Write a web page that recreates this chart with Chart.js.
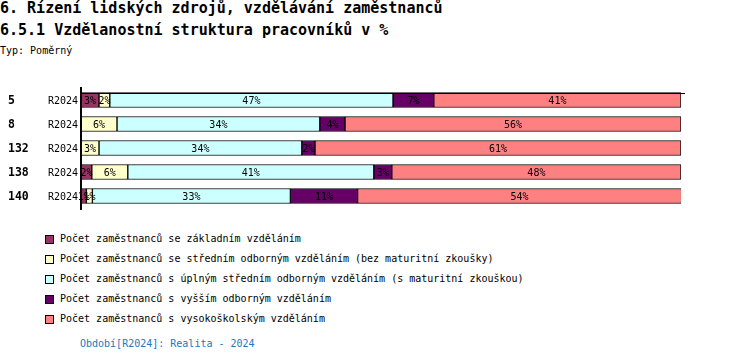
<!DOCTYPE html>
<html><head><meta charset="utf-8">
<script src="https://cdn.jsdelivr.net/npm/chart.js@4/dist/chart.umd.min.js"></script>
<style>
body{margin:0;width:750px;height:362px;background:#fff;position:relative;overflow:hidden;font-family:"DejaVu Sans Mono",monospace;color:#000}
.t{position:absolute;white-space:pre;left:0}
#chartWrap{position:absolute;left:0;top:85px;width:750px;height:130px}
.lg{position:absolute;left:45px;font-size:10px;line-height:12px;white-space:pre}
.lg span.sw{position:absolute;left:0;top:2px;width:7px;height:7px;border:1px solid #000}
.lg span.tx{position:absolute;left:15px;top:0}
</style></head><body>
<div class="t" style="top:0px;font-size:15px;font-weight:bold;line-height:17px">6. Řízení lidských zdrojů, vzdělávání zaměstnanců</div>
<div class="t" style="top:22px;font-size:15px;font-weight:bold;line-height:17px">6.5.1 Vzdělanostní struktura pracovníků v %</div>
<div class="t" style="top:45px;font-size:10px;line-height:12px">Typ: Poměrný</div>
<div id="chartWrap"><canvas id="c" width="750" height="130"></canvas></div>
<div id="legend"></div>
<div class="t" style="left:80px;top:338px;font-size:10px;line-height:12px;color:#2277bb">Období[R2024]: Realita - 2024</div>
<script>
const units = ['5', '8', '132', '138', '140'];
const period = 'R2024';
const seriesNames = [
  'Počet zaměstnanců se základním vzděláním',
  'Počet zaměstnanců se středním odborným vzděláním (bez maturitní zkoušky)',
  'Počet zaměstnanců s úplným středním odborným vzděláním (s maturitní zkouškou)',
  'Počet zaměstnanců s vyšším odborným vzděláním',
  'Počet zaměstnanců s vysokoškolským vzděláním'
];
const zakladni   = [3.0, 0,    0,    1.8,  0.9];
const stredni    = [1.8, 6.0,  3.0,  6.0,  1.0];
const uplne      = [47.2, 33.8, 33.8, 41.0, 33.0];
const vyssi      = [6.8, 4.2,  2.2,  3.0,  11.2];
const vysoko     = [41.2, 56.0, 61.0, 48.2, 54.0];
const colors = ['#993366', '#FFFFCC', '#CCFFFF', '#660066', '#FF8080'];
const seriesData = [zakladni, stredni, uplne, vyssi, vysoko];

// HTML legend
const lg = document.getElementById('legend');
seriesNames.forEach((n, i) => {
  const d = document.createElement('div');
  d.className = 'lg';
  d.style.top = (233 + i * 20) + 'px';
  d.innerHTML = '<span class="sw" style="background:' + colors[i] + '"></span><span class="tx"></span>';
  d.querySelector('.tx').textContent = n;
  lg.appendChild(d);
});

const extras = {
  id: 'extras',
  afterDatasetsDraw(chart) {
    const ctx = chart.ctx;
    const area = chart.chartArea;
    const ys = chart.scales.y;
    ctx.save();
    ctx.font = '10px "DejaVu Sans Mono"';
    ctx.fillStyle = '#000';
    ctx.textAlign = 'center';
    ctx.textBaseline = 'middle';
    chart.data.datasets.forEach((ds, di) => {
      const meta = chart.getDatasetMeta(di);
      meta.data.forEach((el, i) => {
        const v = ds.data[i];
        if (!v) return;
        const cx = (el.x + el.base) / 2;
        ctx.fillText(Math.round(v) + '%', cx, el.y + 1);
      });
    });
    units.forEach((u, i) => {
      const y = ys.getPixelForValue(i);
      ctx.font = 'bold 11.5px "DejaVu Sans Mono"';
      ctx.textAlign = 'left';
      ctx.fillText(u, 8, y + 1);
      ctx.font = '10px "DejaVu Sans Mono"';
      ctx.textAlign = 'right';
      ctx.fillText(period, 78, y + 1);
    });
    ctx.strokeStyle = '#000';
    ctx.lineWidth = 2;
    ctx.beginPath();
    ctx.moveTo(area.left, area.top - 1);
    ctx.lineTo(area.left, area.bottom + 2);
    ctx.stroke();
    ctx.lineWidth = 1;
    ctx.beginPath();
    const top0 = chart.getDatasetMeta(0).data[0];
    const yt = Math.round(top0.y - top0.height / 2) + 0.5;
    ctx.moveTo(area.left, yt);
    ctx.lineTo(area.right + 4, yt);
    ctx.stroke();
    ctx.restore();
  }
};

new Chart(document.getElementById('c'), {
  type: 'bar',
  data: {
    labels: units,
    datasets: seriesData.map((d, i) => ({
      label: seriesNames[i],
      data: d,
      backgroundColor: colors[i],
      borderColor: '#000',
      borderWidth: 1,
      borderSkipped: false,
      barThickness: 15
    }))
  },
  options: {
    indexAxis: 'y',
    responsive: false,
    animation: false,
    devicePixelRatio: 1,
    layout: { padding: { left: 81, right: 69, top: 3, bottom: 7 } },
    scales: {
      x: { stacked: true, min: 0, max: 100, display: false },
      y: { stacked: true, display: false }
    },
    plugins: { legend: { display: false }, tooltip: { enabled: false } }
  },
  plugins: [extras]
});
</script>
</body></html>
